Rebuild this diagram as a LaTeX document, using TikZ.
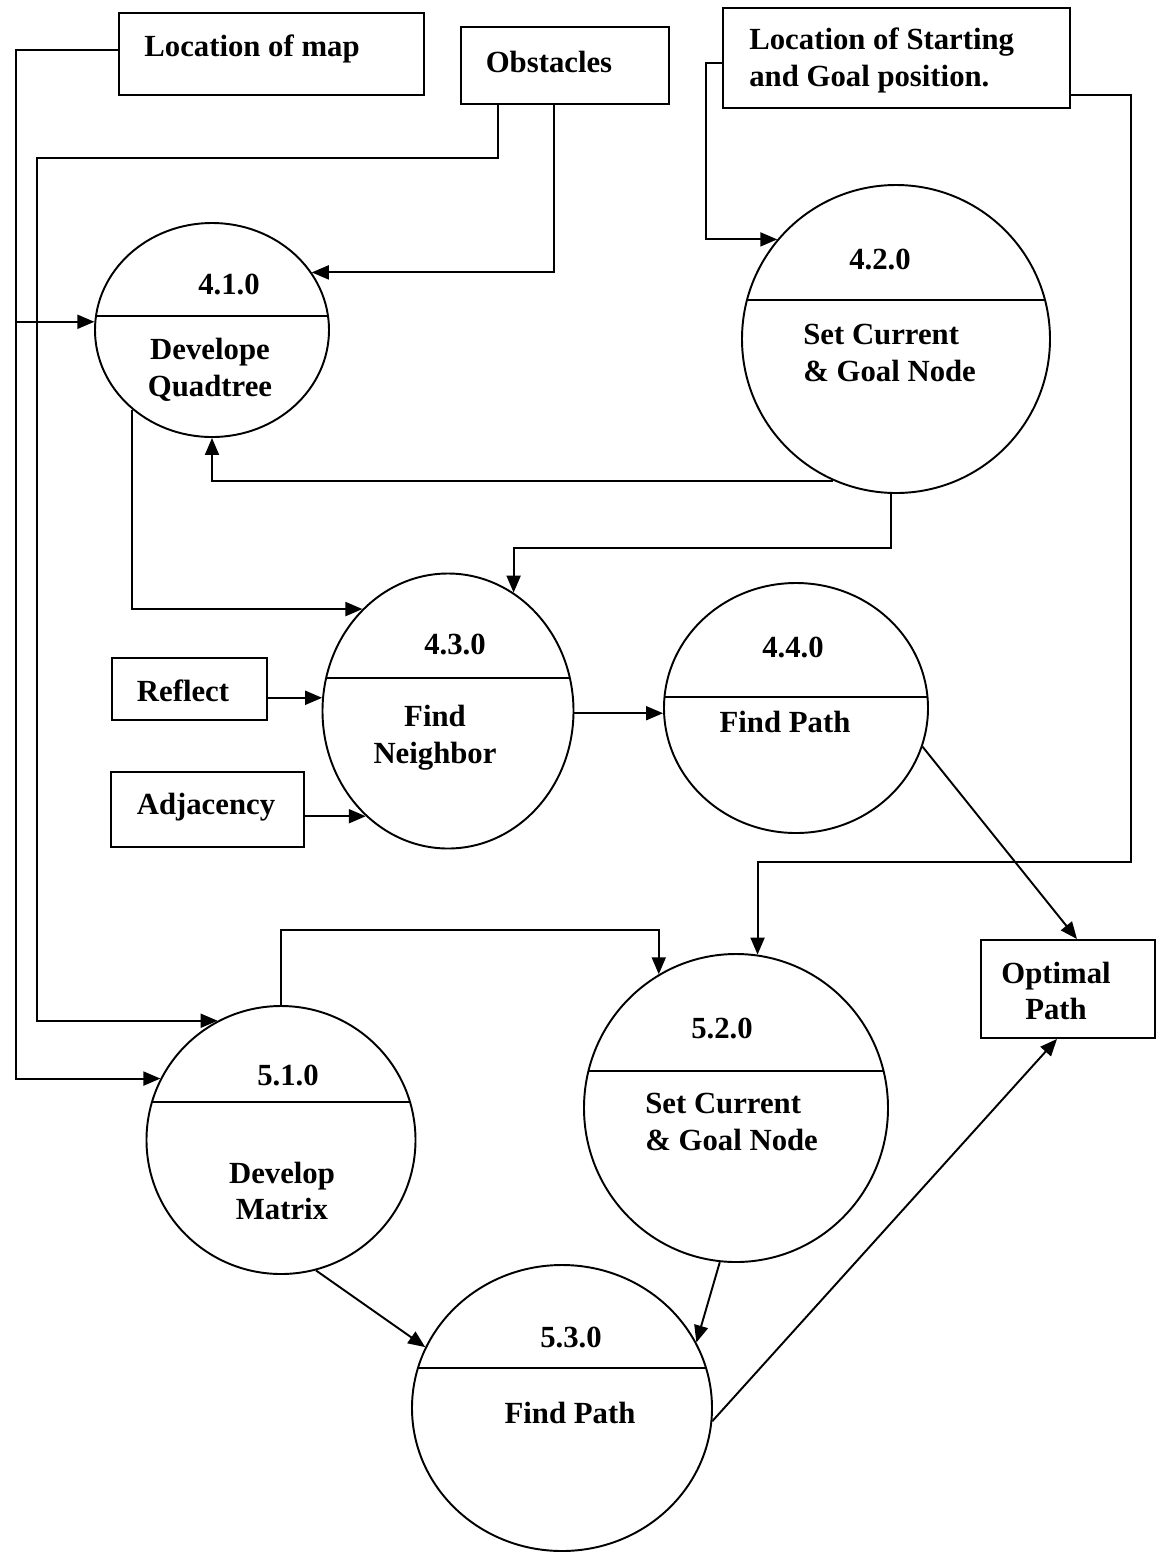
\documentclass[tikz,border=0pt]{standalone}
\usepackage{fontspec}
\setmainfont{Liberation Serif}
\usetikzlibrary{arrows.meta,shapes.geometric,calc}

\begin{document}
\begin{tikzpicture}[x=0.02cm,y=-0.02cm,
  every node/.style={font=\bfseries\fontsize{17.5}{21}\selectfont},
  sz/.style 2 args={minimum width=#1*0.02cm, minimum height=#2*0.02cm},
  store/.style={draw, rectangle, line width=1.1pt, inner sep=0pt},
  proc/.style={draw, ellipse, line width=1.1pt, inner sep=0pt},
  lbl/.style={inner sep=0pt},
  link/.style={line width=1.1pt},
  flow/.style={line width=1.1pt, -{Triangle[length=0.34cm,width=0.28cm]}}]

\useasboundingbox (0,0) rectangle (1159,1553);

% ---------- data stores / external entities ----------
\node[store, sz={305}{82}]  (map)     at (271.5,54)  {};
\node[store, sz={208}{77}]  (obs)     at (565,65.5)  {};
\node[store, sz={347}{100}] (start)   at (896.5,58)  {};
\node[store, sz={155}{62}]  (reflect) at (189.5,689) {};
\node[store, sz={193}{75}]  (adj)     at (207.5,809.5) {};
\node[store, sz={174}{98}]  (opt)     at (1068,989)  {};

\node[lbl] (tmap) at (252,49) {Location of map};
\node[lbl] (tobs) at (549,62) {Obstacles};
\node[lbl, align=left, anchor=west] (tstart) at (749,60) {Location of Starting\\and Goal position.};
\node[lbl] (treflect) at (183,691) {Reflect};
\node[lbl] (tadj) at (206,807) {Adjacency};
\node[lbl, align=center] (topt) at (1056,991) {Optimal\\Path};

% ---------- processes ----------
\node[proc, sz={234}{214}] (c41) at (212,330)  {};
\node[proc, sz={308}{308}] (c42) at (896,339)  {};
\node[proc, sz={251}{275}] (c43) at (448,711)  {};
\node[proc, sz={264}{250}] (c44) at (796,708)  {};
\node[proc, sz={269}{268}] (c51) at (281,1140) {};
\node[proc, sz={304}{308}] (c52) at (736,1108) {};
\node[proc, sz={300}{286}] (c53) at (562,1408) {};

% dividers between number and name
\draw[link] ($(c41.center)+(-116,-14)$) -- ++(232,0);
\draw[link] ($(c42.center)+(-149,-39)$) -- ++(298,0);
\draw[link] ($(c43.center)+(-122,-33)$) -- ++(244,0);
\draw[link] ($(c44.center)+(-131.5,-11)$) -- ++(263,0);
\draw[link] ($(c51.center)+(-129,-38)$) -- ++(258,0);
\draw[link] ($(c52.center)+(-147.5,-37)$) -- ++(295,0);
\draw[link] ($(c53.center)+(-144,-40)$) -- ++(288,0);

\node[lbl] (n41) at (229,284) {4.1.0};
\node[lbl, align=center] (t41) at (210,370) {Develope\\Quadtree};
\node[lbl] (n42) at (880,259) {4.2.0};
\node[lbl, align=left, anchor=west] (t42) at (803,353) {Set Current\\\& Goal Node};
\node[lbl] (n43) at (455,644) {4.3.0};
\node[lbl, align=center] (t43) at (435,738) {Find\\Neighbor};
\node[lbl] (n44) at (793,647) {4.4.0};
\node[lbl] (t44) at (785,722) {Find Path};
\node[lbl] (n51) at (288,1075) {5.1.0};
\node[lbl, align=center] (t51) at (282,1191) {Develop\\Matrix};
\node[lbl] (n52) at (722,1028) {5.2.0};
\node[lbl, align=left, anchor=west] (t52) at (645,1122) {Set Current\\\& Goal Node};
\node[lbl] (n53) at (571,1337) {5.3.0};
\node[lbl] (t53) at (570,1413) {Find Path};

% ---------- bus lines ----------
\coordinate (mapL) at ($(map.west)+(0,-4)$);
\coordinate (mapx) at (16,0);
\coordinate (obsA) at ($(obs.south west)+(38,0)$);
\coordinate (obsB) at ($(obs.south west)+(94,0)$);
\coordinate (obsbus) at (37,158);
\coordinate (startL) at ($(start.north west)+(0,56)$);
\coordinate (startx) at (706,0);
\coordinate (startR) at ($(start.south east)+(0,-14)$);
\coordinate (rbus) at (1131,862);
\coordinate (midy) at (0,548);
\coordinate (topy) at (0,930);

% ---------- flows ----------
\draw[flow] (mapL) -| (mapx |- c51.153) -- (c51.153);
\draw[flow] (mapx |- c41.176) -- (c41.176);

\draw[flow] (obsA) |- (obsbus) |- (c51.118);
\draw[flow] (obsB) |- (c41.30);

\draw[flow] (startL) -| (startx |- c42.140) -- (c42.140);
\draw[flow] (startR) -| (rbus) -| (c52.82);

\draw[flow] (c42.246) -| (c41.south);
\draw[flow] (c41.225) |- (c43.130);
\draw[flow] (c42.268) -- (c42.268 |- midy) -| (c43.61);

\draw[flow] (c43.174 -| reflect.east) -- (c43.174);
\draw[flow] (c43.232 -| adj.east) -- (c43.232);
\draw[flow] (c43.359) -- (c43.359 -| c44.west);
\draw[flow] (c44.343) -- ($(opt.north)+(9,0)$);

\draw[flow] (c51.north) -- (c51.north |- topy) -| (c52.120);
\draw[flow] (c51.285) -- (c53.156);
\draw[flow] (c52.264) -- (c53.26);
\draw[flow] (c53.355) -- ($(opt.south)+(-11,0)$);

\end{tikzpicture}
\end{document}
